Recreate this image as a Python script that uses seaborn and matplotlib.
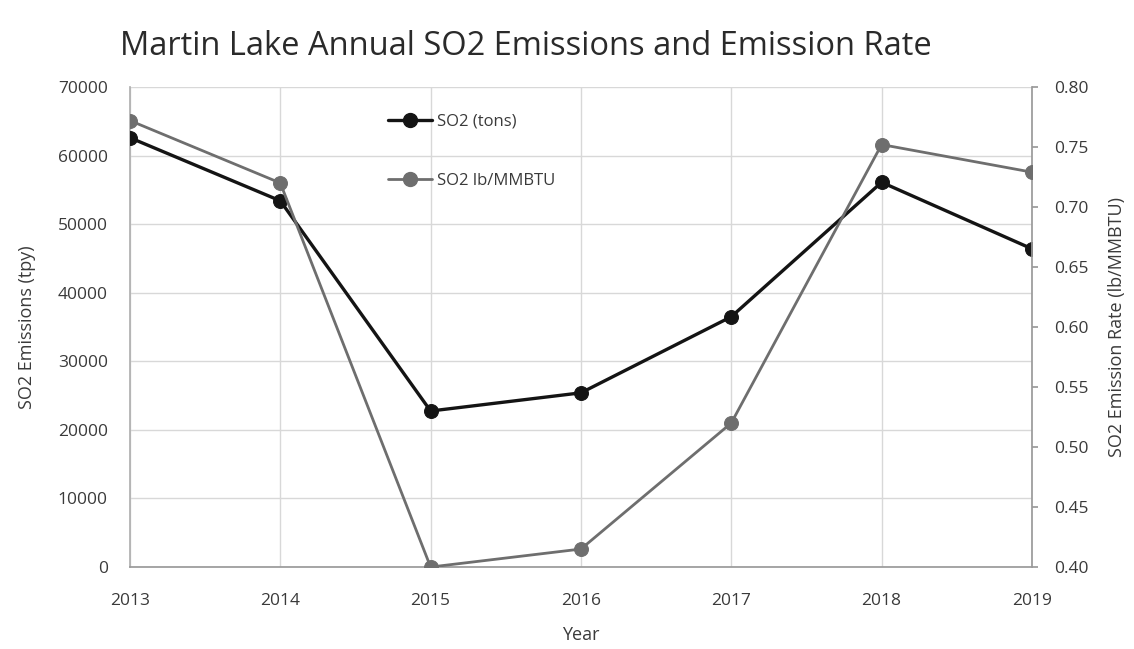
import matplotlib
matplotlib.use("Agg")
import matplotlib.pyplot as plt
import seaborn as sns
import pandas as pd
from matplotlib.lines import Line2D

years = [2013, 2014, 2015, 2016, 2017, 2018, 2019]
so2_tons = [62600, 53400, 22750, 25400, 36500, 56100, 46400]
so2_rate = [0.772, 0.720, 0.400, 0.415, 0.520, 0.752, 0.729]
left_ticks = [0, 10000, 20000, 30000, 40000, 50000, 60000, 70000]
right_ticks = [0.40, 0.45, 0.50, 0.55, 0.60, 0.65, 0.70, 0.75, 0.80]

df = pd.DataFrame({"Year": years, "tons": so2_tons, "rate": so2_rate})

sns.set_theme(style="white")
plt.rcParams['font.family'] = ['Open Sans', 'DejaVu Sans']
txt = "#3a3a3a"

fig = plt.figure(figsize=(11.34, 6.49), dpi=100)
ax = fig.add_axes([0.1146, 0.1263, 0.7954, 0.7397])
ax2 = ax.twinx()

black = "#141414"
gray = "#6e6e6e"

sns.lineplot(data=df, x="Year", y="tons", ax=ax, color=black, linewidth=2.4,
             marker="o", markersize=10, markeredgecolor=black, zorder=4, legend=False)
sns.lineplot(data=df, x="Year", y="rate", ax=ax2, color=gray, linewidth=2.0,
             marker="o", markersize=10, markeredgecolor=gray, zorder=3, legend=False)

ax.set_xlim(2013, 2019)
ax.set_ylim(0, 70000)
ax2.set_ylim(0.40, 0.80)
ax.set_xticks(years)
ax.set_xticklabels([str(y) for y in years], fontsize=12.5, color=txt)
ax.set_yticks(left_ticks)
ax.set_yticklabels([str(t) for t in left_ticks], fontsize=12.5, color=txt)
ax2.set_yticks(right_ticks)
ax2.set_yticklabels([f"{t:.2f}" for t in right_ticks], fontsize=12.5, color=txt)

ax.grid(True, color="#d8d8d8", linewidth=1.0)
ax.set_axisbelow(True)
ax2.grid(False)

for a in (ax, ax2):
    a.spines["top"].set_visible(False)
ax.spines["left"].set_color("#b0b0b0")
ax.spines["bottom"].set_color("#9a9a9a")
ax.spines["right"].set_visible(False)
ax2.spines["left"].set_visible(False)
ax2.spines["bottom"].set_visible(False)
ax2.spines["right"].set_color("#9a9a9a")

ax.tick_params(axis="x", length=0, pad=19)
ax.tick_params(axis="y", length=0, pad=16)
ax2.tick_params(axis="y", length=4, color="#9a9a9a", pad=12)

ax.set_xlabel("Year", fontsize=13, color=txt, labelpad=12)
ax.set_ylabel("SO2 Emissions (tpy)", fontsize=13, color=txt, labelpad=16)
ax2.set_ylabel("SO2 Emission Rate (lb/MMBTU)", fontsize=13, color=txt, labelpad=14)

fig.text(0.106, 0.928, "Martin Lake Annual SO2 Emissions and Emission Rate",
         fontsize=23.5, color="#2a2a2a", ha="left", va="center")

handles = [Line2D([], [], color=black, linewidth=2.4, marker="o", markersize=10),
           Line2D([], [], color=gray, linewidth=2.0, marker="o", markersize=10)]
ax2.legend(handles, ["SO2 (tons)", "SO2 lb/MMBTU"], loc="upper left",
           bbox_to_anchor=(0.27, 0.975), frameon=False, fontsize=12,
           labelspacing=2.6, handlelength=2.6, handletextpad=0.3,
           labelcolor=txt)

fig.savefig("out.png", dpi=100, facecolor="white")
